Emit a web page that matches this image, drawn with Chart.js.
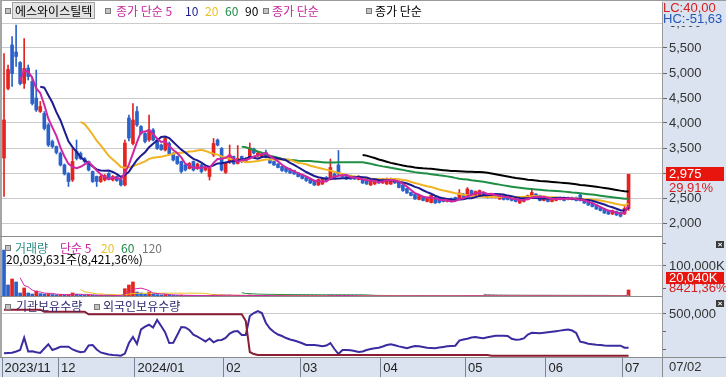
<!DOCTYPE html>
<html><head><meta charset="utf-8">
<script src="https://cdn.jsdelivr.net/npm/chart.js@4.4.1/dist/chart.umd.min.js"></script>
<style>
html,body{margin:0;padding:0;background:#fff;}
#wrap{position:relative;width:726px;height:377px;overflow:hidden;background:#fff;font-family:"Noto Sans CJK KR","Noto Sans",sans-serif;}
canvas{position:absolute;left:0;}
.bg{position:absolute;}
.t{position:absolute;font-size:12px;line-height:14px;white-space:nowrap;}
.n{position:absolute;font-family:"Liberation Sans Narrow","Liberation Sans",Arial,sans-serif;font-size:13px;line-height:14px;white-space:nowrap;}
.mk{position:absolute;width:4px;height:4px;background:#c4c4c4;border:1px solid #7a7a7a;}
.x{position:absolute;width:8px;height:7px;background:#3c3c3c;color:#fff;font:bold 8px/7px Arial,sans-serif;text-align:center;}
</style></head><body>
<div id="wrap">
 <div class="bg" style="left:662px;top:0;width:64px;height:377px;background:#dae3ef"></div>
 <div class="bg" style="left:0;top:358px;width:726px;height:19px;background:#dae3ef"></div>
 <canvas id="cP" width="726" height="237" style="top:0"></canvas>
 <canvas id="cV" width="726" height="60" style="top:237px"></canvas>
 <canvas id="cH" width="726" height="80" style="top:297px"></canvas>
 <div class="bg" style="left:0;top:0;width:726px;height:1px;background:#9a9a9a"></div>
 <div class="bg" style="left:0;top:0;width:2px;height:358px;background:#a6a6a6"></div>
 <div class="bg" style="left:0;top:236px;width:662px;height:1px;background:#8c8c8c"></div>
 <div class="bg" style="left:0;top:296px;width:662px;height:1px;background:#8c8c8c"></div>
 <div class="bg" style="left:0;top:357px;width:726px;height:1px;background:#8c8c8c"></div>
 <div class="bg" style="left:662px;top:358px;width:1px;height:19px;background:#8c8c8c"></div>

 <!-- price legend -->
 <div class="mk" style="left:5px;top:8px"></div>
 <div class="t" style="left:12px;top:2px;height:15px;line-height:15px;padding:0 2px;background:#e3e3e3;border:1px solid #a0a0a0;color:#000">에스와이스틸텍</div>
 <div class="mk" style="left:105px;top:8px"></div>
 <div class="t" style="left:116px;top:4px;color:#c8289e">종가 단순 5</div>
 <div class="t" style="left:185px;top:4px;color:#1b1b8e">10</div>
 <div class="t" style="left:205px;top:4px;color:#e8c228">20</div>
 <div class="t" style="left:225px;top:4px;color:#1e8a48">60</div>
 <div class="t" style="left:245px;top:4px;color:#000">90</div>
 <div class="mk" style="left:263px;top:8px"></div>
 <div class="t" style="left:272px;top:4px;color:#c8289e">종가 단순</div>
 <div class="mk" style="left:366px;top:8px"></div>
 <div class="t" style="left:375px;top:4px;color:#000">종가 단순</div>

 <div class="bg" style="left:663px;top:1px;width:63px;height:25px;background:#dae3ef"></div>
 <div class="n" style="left:663px;top:1px;color:#d42020">LC:40,00</div>
 <div class="n" style="left:663px;top:12px;color:#2456b8">HC:-51,63</div>

 <!-- volume legend -->
 <div class="mk" style="left:5px;top:245px"></div>
 <div class="t" style="left:15px;top:241px;color:#2e8f86">거래량</div>
 <div class="t" style="left:60px;top:241px;color:#c8289e">단순 5</div>
 <div class="t" style="left:101px;top:241px;color:#e8c228">20</div>
 <div class="t" style="left:121px;top:241px;color:#1e8a48">60</div>
 <div class="t" style="left:142px;top:241px;color:#777">120</div>
 <div class="t" style="left:6px;top:252px;color:#000">20,039,631주(8,421,36%)</div>
 <div class="x" style="left:716px;top:241px">×</div>
 <div class="bg" style="left:666px;top:272px;width:58px;height:12px;background:#e8150e"></div>
 <div class="n" style="left:669px;top:271px;color:#fff">20,040K</div>
 <div class="n" style="left:669px;top:281px;color:#d42020">8421,36%</div>

 <!-- holdings legend -->
 <div class="mk" style="left:5px;top:304px"></div>
 <div class="t" style="left:16px;top:299px;color:#2f2a6e">기관보유수량</div>
 <div class="mk" style="left:94px;top:304px"></div>
 <div class="t" style="left:103px;top:299px;color:#2f2a6e">외국인보유수량</div>
 <div class="x" style="left:716px;top:300px">×</div>

 <div class="n" style="left:669px;top:360px;color:#333">07/02</div>
</div>
<script>
// ---------- data ----------
const opens = [3300,4690,5560,5420,5210,4790,5100,4830,4500,4230, 4190,3960,3630,3530,3390,3160,2990,2860,3430,3390,
 3290,3230,3030,2930,2830,2860,2990,2860,2930,2860, 2760,4100,3590,4230,3930,3790,3660,3860,3660,3560,
 3460,3590,3390,3330,3230,3160,3090,3230,3090,3160, 3060,2930,3360,3660,3490,3010,3230,3330,3190,3330,
 3290,3320,3480,3340,3330,3410,3280,3230,3180,3130, 3110,3080,3050,3000,2960,2910,2880,2850,2760,2780,
 2910,2880,2980,3160,2980,2960,2950,2930,2870,2880, 2870,2760,2780,2870,2800,2780,2780,2880,2810,2760,
 2690,2610,2580,2470,2530,2430,2410,2510,2490,2490, 2430,2490,2510,2480,2580,2550,2650,2550,2560,2610,
 2580,2510,2580,2480,2550,2530,2510,2490,2400,2430, 2470,2510,2580,2550,2450,2510,2430,2450,2470,2510,
 2470,2510,2510,2560,2470,2430,2400,2360,2310,2280, 2250,2180,2230,2210,2180,2290];
const highs = [5390,5160,5730,5960,5230,5690,5160,4930,5060,4430, 4230,3990,3660,3540,3420,3180,3010,3490,3660,3420,
 3310,3240,3040,2940,2950,2970,3010,2950,2940,2880, 3660,4160,4390,4330,3950,3810,4160,3890,3680,3580,
 3720,3620,3410,3340,3240,3180,3210,3240,3200,3180, 3140,3110,3690,3680,3510,3220,3560,3340,3550,3340,
 3310,3600,3500,3420,3400,3460,3290,3240,3190,3140, 3120,3090,3060,3010,2970,2930,2890,2860,2880,2890,
 2930,3280,3000,3450,2990,2970,2960,2940,2945,2890, 2870,2860,2860,2880,2890,2900,2900,2890,2820,2770,
 2700,2620,2590,2560,2540,2520,2560,2520,2500,2500, 2490,2500,2520,2670,2590,2710,2660,2640,2660,2620,
 2590,2590,2590,2560,2560,2540,2520,2500,2480,2500, 2560,2670,2590,2560,2520,2520,2500,2520,2520,2520,
 2520,2520,2520,2580,2470,2430,2410,2370,2320,2290, 2250,2260,2240,2220,2330,2975];
const lows = [2530,4660,4730,5130,4760,4690,4860,4360,4230,4210, 3860,3530,3500,3380,3140,2960,2730,2830,3260,3270,
 3200,3040,2810,2730,2810,2840,2860,2840,2830,2740, 2740,3640,3560,3930,3770,3600,3630,3640,3470,3450,
 3440,3370,3240,3170,3000,3040,3080,3040,3070,3000, 3040,2860,3330,3540,3040,2990,3190,3170,3180,3210,
 3210,3290,3380,3320,3310,3300,3190,3150,3100,3030, 3010,2990,2970,2920,2880,2830,2790,2750,2750,2770,
 2840,2860,2900,2960,2920,2870,2870,2870,2860,2790, 2770,2750,2770,2790,2790,2770,2770,2790,2700,2630,
 2590,2540,2470,2460,2440,2420,2400,2390,2400,2420, 2420,2420,2440,2470,2500,2540,2550,2540,2550,2540,
 2500,2500,2500,2470,2460,2460,2440,2420,2390,2420, 2460,2500,2500,2440,2440,2420,2420,2440,2460,2440,
 2460,2460,2440,2440,2390,2350,2320,2270,2240,2190, 2170,2170,2150,2120,2170,2250];
const closes = [4060,5070,4990,5330,4790,5090,4930,4390,4260,4330, 3890,3560,3530,3410,3160,2980,2830,3230,3290,3290,
 3230,3060,2830,2830,2930,2950,2870,2930,2850,2760, 3600,3700,4060,3960,3790,3630,3860,3660,3490,3470,
 3690,3390,3260,3190,3030,3060,3190,3060,3180,3030, 3130,3090,3590,3560,3060,3210,3360,3190,3290,3230,
 3230,3500,3400,3400,3380,3310,3200,3160,3110,3050, 3030,3000,2980,2930,2890,2850,2800,2760,2870,2880,
 2850,3110,2910,2980,2930,2880,2880,2880,2930,2800, 2780,2850,2850,2800,2880,2880,2880,2800,2710,2650,
 2600,2550,2480,2550,2450,2510,2550,2400,2410,2430, 2480,2430,2450,2600,2510,2680,2560,2630,2650,2550,
 2510,2580,2510,2550,2470,2470,2450,2430,2470,2490, 2550,2610,2510,2450,2510,2430,2490,2510,2510,2450,
 2510,2470,2450,2450,2400,2360,2330,2280,2250,2200, 2180,2250,2160,2135,2290,2975];
// volume in thousand shares
const volumesK = [153000,36700,56700,46700,10000,26700,10000,6700,16700,8000, 6500,7000,5000,4000,4500,3500,4200,10000,6000,3800,
 2600,3000,2800,2200,2400,1900,1700,1800,1300,1100, 24300,36700,46700,13300,10000,6000,13300,6500,4800,3200,
 4500,3300,2400,2000,2600,1700,1900,1500,1600,1300, 1100,1400,5200,2600,3000,1800,2500,1400,2200,1300,
 900,3200,1500,1100,900,1200,800,700,600,650, 550,500,520,480,450,500,420,460,600,550,
 400,2800,900,2400,800,600,450,400,420,380, 350,400,380,330,420,460,400,350,420,520,
 480,400,450,380,340,360,420,390,300,280, 310,290,270,900,500,1100,600,450,480,380,
 350,370,320,340,300,280,260,290,310,300, 420,1000,520,400,360,330,310,340,300,280,
 290,260,250,600,400,360,330,380,340,310, 280,300,270,260,238,20040];
// holdings (shares)
const instHold = [549000,549000,549000,549000,549000,549000,549000,549000,549000,549000,
 526000,526000,526000,526000,526000,526000,526000,526000,526000,526000,
 526000,497000,497000,497000,497000,497000,497000,497000,497000,497000,
 497000,497000,497000,497000,497000,497000,497000,497000,497000,497000,
 497000,497000,497000,497000,497000,497000,497000,497000,497000,497000,
 497000,497000,497000,497000,497000,497000,497000,497000,497000,497000,
 420000,68000,45000,34000,34000,34000,34000,34000,34000,34000,
 34000,34000,34000,34000,34000,34000,34000,34000,34000,34000,
 34000,34000,34000,34000,34000,34000,34000,34000,34000,34000,
 34000,34000,34000,34000,34000,34000,34000,34000,34000,34000,
 34000,34000,34000,34000,34000,34000,34000,34000,34000,34000,
 34000,34000,34000,34000,34000,34000,34000,34000,34000,34000,
 34000,26000,26000,26000,26000,26000,26000,26000,26000,26000,
 26000,26000,26000,26000,26000,26000,26000,26000,26000,26000,
 26000,26000,26000,26000,26000,26000,26000,26000,26000,26000,
 26000,26000,26000,26000,26000,26000];
const foreignHold = [53000,57000,59000,74000,91000,231000,74000,77000,66000,57000,
 108000,156000,91000,108000,128000,128000,128000,97000,80000,66000,
 72000,142000,148000,97000,63000,51000,40000,34000,31000,26000,
 51000,170000,239000,159000,324000,356000,378000,347000,432000,364000,
 290000,170000,174000,261000,352000,347000,318000,265000,242000,216000,
 188000,222000,178000,201000,205000,227000,278000,301000,307000,261000,
 261000,477000,511000,534000,511000,398000,335000,295000,267000,250000,
 227000,210000,199000,185000,168000,148000,148000,147000,142000,134000,
 142000,170000,102000,45000,91000,91000,89000,80000,68000,74000,
 91000,102000,110000,116000,131000,148000,157000,144000,132000,123000,
 111000,125000,136000,134000,125000,117000,114000,111000,118000,125000,
 133000,136000,140000,197000,210000,219000,233000,239000,231000,224000,
 235000,244000,252000,253000,253000,250000,218000,207000,211000,222000,
 267000,286000,284000,281000,286000,292000,298000,305000,311000,318000,
 324000,312000,284000,186000,175000,163000,157000,151000,148000,142000,
 140000,140000,140000,140000,117000,117000];
const monthStartIdx = [0,14,33,55,74,94,115,135,154];
const monthLabels = ['2023/11','12','2024/01','02','03','04','05','06','07'];
const priceTicks = [2000,2500,3000,3500,4000,4500,5000,5500,6000];
const volTicks = [25000,50000,75000,100000,125000,150000,175000];
const holdTicks = [100000,200000,300000,400000,500000,600000];

// ---------- helpers ----------
const NUMFONT = '"Liberation Sans Narrow","Liberation Sans",Arial,sans-serif';
Chart.defaults.font.family = NUMFONT;
Chart.defaults.color = '#333';
const UP = '#e32420', DOWN = '#2a62c9';
function sma(arr, n){ return arr.map((v,i)=>{ if(i<n-1) return null; let s=0; for(let k=i-n+1;k<=i;k++) s+=arr[k]; return s/n; }); }
const pts = arr => arr.map((v,i)=>({x:i, y:v}));
const XMIN = -0.5, XMAX = 163.3;
const baseX = (display) => ({type:'linear', min:XMIN, max:XMAX, offset:false, display, grid:{offset:false}});
const fitY = a => { a.width = 64; a.paddingTop = 0; a.paddingBottom = 0; };
const common = {responsive:false, animation:false, devicePixelRatio:1,
  plugins:{legend:{display:false}, tooltip:{enabled:false}}};

// ---------- price chart ----------
const candleColor = closes.map((c,i)=> c >= opens[i] ? UP : DOWN);
const lineDs = (data, color, order, w) => ({type:'line', data:pts(data), borderColor:color, borderWidth:w, pointRadius:0, tension:0, order, spanGaps:false});
const lastTag = {
  id:'lastTag',
  afterDraw(chart){
    const {ctx, chartArea} = chart; const y = chart.scales.y;
    const n = closes.length-1;
    const py = Math.round(y.getPixelForValue(closes[n]));
    const chg = (closes[n]/closes[n-1]-1)*100;
    ctx.save();
    ctx.fillStyle = '#e8150e';
    ctx.fillRect(chartArea.right+4, py-7, 58, 14);
    ctx.font = '13px ' + NUMFONT; ctx.textBaseline='middle'; ctx.textAlign='left';
    ctx.fillStyle = '#fff';
    ctx.fillText(closes[n].toLocaleString('en-US'), chartArea.right+7, py);
    ctx.fillStyle = '#d42020';
    ctx.fillText(chg.toFixed(2).replace('.', ',') + '%', chartArea.right+7, py+14);
    ctx.restore();
  }
};
new Chart(document.getElementById('cP'), {
  type:'bar',
  data:{datasets:[
    lineDs(sma(closes,5), '#cf27a3', 1, 2),
    lineDs(sma(closes,10), '#1c1c8f', 2, 2),
    lineDs(sma(closes,20), '#f0b323', 3, 2),
    lineDs(sma(closes,60), '#1f8f45', 4, 2),
    lineDs(sma(closes,90), '#000000', 5, 2),
    {type:'bar', data:closes.map((c,i)=>({x:i, y:[lows[i], highs[i]]})), backgroundColor:candleColor,
     grouped:false, barPercentage:1, categoryPercentage:1, maxBarThickness:1, order:11},
    {type:'bar', data:closes.map((c,i)=>({x:i, y:[Math.min(c,opens[i]), Math.max(c,opens[i])]})), backgroundColor:candleColor,
     grouped:false, barPercentage:1, categoryPercentage:1, maxBarThickness:3, minBarLength:1, order:10}
  ]},
  options:Object.assign({}, common, {
    layout:{autoPadding:false, padding:{left:2, top:2, right:0, bottom:0}},
    scales:{
      x: baseX(false),
      y:{position:'right', min:1720, max:6420, afterFit:fitY,
         afterBuildTicks:a=>{ a.ticks = priceTicks.map(v=>({value:v})); },
         grid:{color:'#cbcbcb', tickColor:'#666', tickLength:5},
         border:{color:'#9a9a9a'},
         ticks:{padding:2, color:'#333', font:{size:13}, callback:v=>v.toLocaleString('en-US')}}
    }
  }),
  plugins:[lastTag]
});

// ---------- volume chart ----------
const volColor = volumesK.map((v,i)=> i>0 && v > volumesK[i-1] ? UP : DOWN);
new Chart(document.getElementById('cV'), {
  type:'bar',
  data:{datasets:[
    lineDs(sma(volumesK,5), '#cf27a3', 1, 1),
    lineDs(sma(volumesK,20), '#e8c020', 2, 1),
    lineDs(sma(volumesK,60), '#1f8f45', 3, 1),
    lineDs(sma(volumesK,120), '#888888', 4, 1),
    {type:'bar', data:pts(volumesK), backgroundColor:volColor, grouped:false, barPercentage:1, categoryPercentage:1, maxBarThickness:3, order:10}
  ]},
  options:Object.assign({}, common, {
    layout:{autoPadding:false, padding:{left:2, top:0, right:0, bottom:0}},
    scales:{
      x: baseX(false),
      y:{position:'right', min:-3400, max:196600, afterFit:fitY,
         afterBuildTicks:a=>{ a.ticks = volTicks.map(v=>({value:v})); },
         grid:{color:c=> c.tick && c.tick.value===100000 ? '#cbcbcb' : 'rgba(0,0,0,0)', tickColor:'#666', tickLength:4},
         border:{color:'#9a9a9a'},
         ticks:{padding:3, color:'#333', font:{size:13}, callback:v=> v===100000 ? v.toLocaleString('en-US')+'K' : ''}}
    }
  })
});

// ---------- holdings chart ----------
new Chart(document.getElementById('cH'), {
  type:'line',
  data:{datasets:[
    {data:pts(instHold), borderColor:'#8a1c34', borderWidth:2, pointRadius:0, tension:0},
    {data:pts(foreignHold), borderColor:'#3a2ca0', borderWidth:2, pointRadius:0, tension:0}
  ]},
  options:Object.assign({}, common, {
    layout:{autoPadding:false, padding:{left:2, top:0, right:0, bottom:0}},
    scales:{
      x:{type:'linear', min:XMIN, max:XMAX, offset:false, position:'bottom',
         afterFit:a=>{ a.height = 19; a.paddingLeft = 0; a.paddingRight = 0; },
         afterBuildTicks:a=>{ a.ticks = monthStartIdx.map(i=>({value:i-0.5})); },
         grid:{drawOnChartArea:false, drawTicks:true, tickLength:19, tickColor:'#7a8494', offset:false},
         border:{display:false},
         ticks:{autoSkip:false, maxRotation:0, minRotation:0, align:'start', padding:-16, color:'#222', font:{size:13},
                callback:(v,k)=>'\u2009'+monthLabels[k]}},
      y:{position:'right', min:0, max:693000, afterFit:fitY,
         afterBuildTicks:a=>{ a.ticks = holdTicks.map(v=>({value:v})); },
         grid:{color:c=> c.tick && c.tick.value===500000 ? '#cbcbcb' : 'rgba(0,0,0,0)', tickColor:'#666', tickLength:4},
         border:{color:'#9a9a9a'},
         ticks:{padding:3, color:'#333', font:{size:13}, callback:v=> v===500000 ? v.toLocaleString('en-US') : ''}}
    }
  })
});
</script>
</body></html>
